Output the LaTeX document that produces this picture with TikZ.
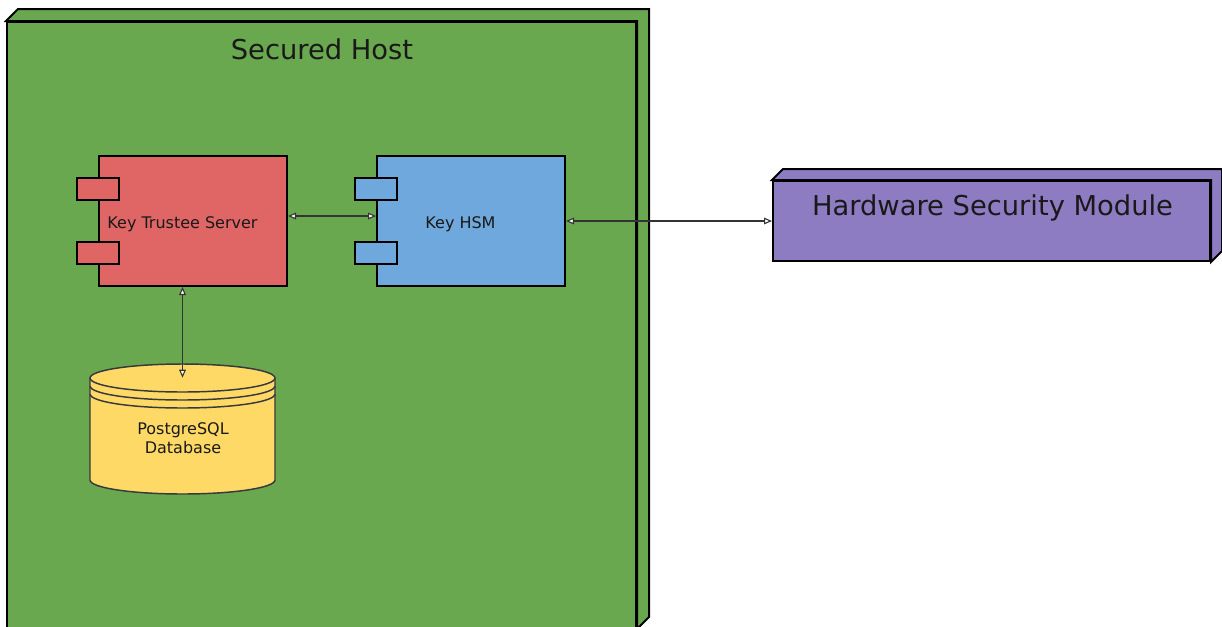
\documentclass[tikz,border=0pt]{standalone}
\usepackage{fontspec}
\setmainfont{DejaVu Sans}
\usetikzlibrary{arrows.meta,calc}
\definecolor{hostgreen}{HTML}{6AA84F}
\definecolor{ktsred}{HTML}{E06666}
\definecolor{hsmblue}{HTML}{6FA8DC}
\definecolor{dbyellow}{HTML}{FFD966}
\definecolor{hwmpurple}{HTML}{8E7CC3}
\definecolor{dbline}{HTML}{36393D}
\definecolor{connline}{HTML}{333333}
\begin{document}
\begin{tikzpicture}[x=0.75pt,y=-0.75pt,
  boxface/.style={rectangle, draw=black, line width=1.5pt, inner sep=0pt, line join=miter},
  comp/.style={rectangle, draw=black, line width=1.5pt, inner sep=0pt,
    minimum width=141pt, minimum height=97.5pt},
  port/.style={rectangle, draw=black, line width=1.5pt, inner sep=0pt,
    minimum width=31.5pt, minimum height=16.5pt},
  smalltxt/.style={anchor=base, inner sep=0pt, font=\fontsize{12}{14.4}\selectfont, text=black!90},
  bigtxt/.style={anchor=base, inner sep=0pt, font=\fontsize{20.5}{24}\selectfont, text=black!90},
  conn/.style={draw=connline, line width=0.8pt,
    {Triangle[open,fill=white,length=6pt,width=5pt]}-{Triangle[open,fill=white,length=6pt,width=5pt]}},
]
\useasboundingbox (0,0) rectangle (1222,626);
\clip (0,0) rectangle (1222,626);

% Secured Host (3D box)
\node[boxface, fill=hostgreen, minimum width=471.75pt, minimum height=454.5pt] (host) at (321.5,325) {};
\draw[line width=1.5pt, fill=hostgreen, line join=miter]
  (host.north west) -- ++(12,-12) -- ($(host.north east)+(12,-12)$)
  -- ($(host.south east)+(12,-12)$) -- (host.south east) -- (host.north east) -- cycle;
\node[bigtxt] (hosttxt) at (322,59) {Secured Host};

% Key Trustee Server
\node[comp, fill=ktsred] (kts) at (193,221) {};
\node[port, fill=ktsred] (ktsp1) at ($(kts.west)+(0,-32)$) {};
\node[port, fill=ktsred] (ktsp2) at ($(kts.west)+(0,32)$) {};
\node[smalltxt] (ktstxt) at (182.5,228) {Key Trustee Server};

% Key HSM
\node[comp, fill=hsmblue] (khsm) at (471,221) {};
\node[port, fill=hsmblue] (khsmp1) at ($(khsm.west)+(0,-32)$) {};
\node[port, fill=hsmblue] (khsmp2) at ($(khsm.west)+(0,32)$) {};
\node[smalltxt] (khsmtxt) at (460.5,228) {Key HSM};

% PostgreSQL Database (cylinder)
\node[rectangle, inner sep=0pt, minimum width=138.75pt, minimum height=97.5pt] (db) at (182.5,429) {};
\draw[draw=dbline, line width=1.1pt, fill=dbyellow]
  (90,378) -- (90,480) arc[start angle=180, end angle=360, x radius=69.375pt, y radius=10.5pt]
  -- (275,378) arc[start angle=0, end angle=180, x radius=69.375pt, y radius=10.5pt] -- cycle;
\draw[draw=dbline, line width=1.1pt]
  (90,378) arc[start angle=180, end angle=360, x radius=69.375pt, y radius=10.5pt];
\draw[draw=dbline, line width=1.1pt]
  (90,386) arc[start angle=180, end angle=360, x radius=69.375pt, y radius=10.5pt];
\draw[draw=dbline, line width=1.1pt]
  (90,394) arc[start angle=180, end angle=360, x radius=69.375pt, y radius=10.5pt];
\coordinate (dbtop) at ($(db.north)+(0,14)$);
\node[smalltxt] (dbtxt1) at (183,434) {PostgreSQL};
\node[smalltxt] (dbtxt2) at (183,453) {Database};

% Hardware Security Module (3D box)
\node[boxface, fill=hwmpurple, minimum width=327.75pt, minimum height=60pt] (hwm) at (991.5,221) {};
\draw[line width=1.5pt, fill=hwmpurple, line join=miter]
  (hwm.north west) -- ++(11,-11) -- ($(hwm.north east)+(11,-11)$)
  -- ($(hwm.south east)+(11,-11)$) -- (hwm.south east) -- (hwm.north east) -- cycle;
\node[bigtxt] (hwmtxt) at (992.5,215) {Hardware Security Module};

% Connectors
\draw[conn] ($(kts.east)+(0,-5)$) -- ($(khsm.west)+(0,-5)$);
\draw[conn] (khsm.east) -- (hwm.west);
\draw[conn] (db.north |- kts.south) -- (dbtop);
\end{tikzpicture}
\end{document}
